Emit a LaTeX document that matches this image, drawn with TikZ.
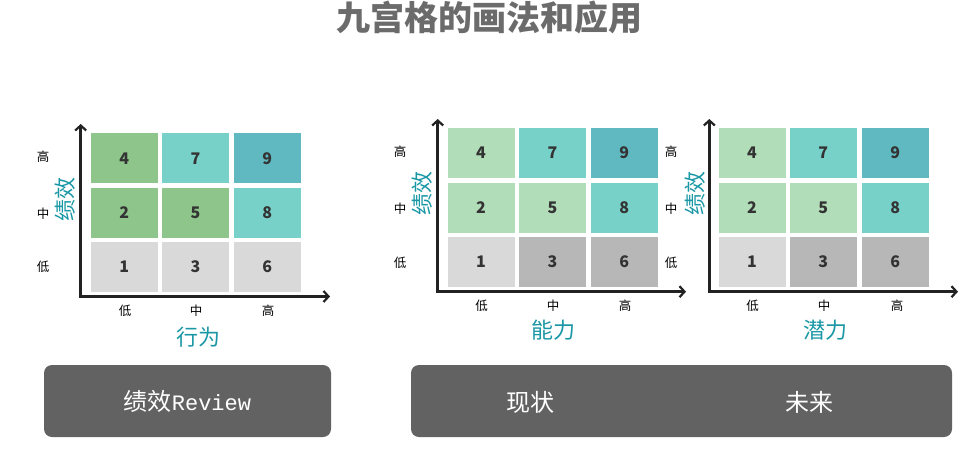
\documentclass[tikz,border=0pt]{standalone}
\usepackage{fontspec}
\setmainfont{Noto Sans CJK SC}
\newfontfamily\monofam{Liberation Mono}
\usetikzlibrary{arrows.meta}
\definecolor{cgreen}{HTML}{8DC58B}
\definecolor{clgreen}{HTML}{B2DDB9}
\definecolor{cteal}{HTML}{77D1C9}
\definecolor{cdteal}{HTML}{60B8C0}
\definecolor{clgray}{HTML}{D9D9D9}
\definecolor{cmgray}{HTML}{B7B7B7}
\definecolor{axcol}{HTML}{222222}
\definecolor{titlecol}{HTML}{6B6B6B}
\definecolor{labcol}{HTML}{1A97A5}
\definecolor{boxcol}{HTML}{626262}
\definecolor{numcol}{HTML}{333333}
\tikzset{
  cellbox/.style={rectangle, inner sep=0pt, minimum width=67pt, minimum height=50pt,
    font=\fontsize{16}{16}\selectfont\bfseries, text=numcol},
  axisline/.style={draw=axcol, line width=2.6pt, {Straight Barb[length=5pt,width=11pt,line width=2.2pt]}-{Straight Barb[length=5pt,width=11pt,line width=2.2pt]}},
  ticklab/.style={inner sep=0pt, font=\fontsize{12.5}{12.5}\selectfont, text=black},
  axtitle/.style={inner sep=0pt, font=\fontsize{22}{22}\selectfont, text=labcol},
  bottombox/.style={rectangle, rounded corners=8pt, fill=boxcol, inner sep=0pt},
  boxtext/.style={inner sep=0pt, text=white, font=\fontsize{24}{24}\selectfont}
}
\begin{document}
\begin{tikzpicture}[x=1pt,y=-1pt]
\useasboundingbox (0,0) rectangle (978,469);
% title
\node[inner sep=0pt, text=titlecol, font=\fontsize{34}{34}\selectfont\bfseries] (title) at (489,18) {九宫格的画法和应用};

% ---------- left panel ----------
\node[cellbox, fill=cgreen] (L4) at (124.3,158.3) {4};
\node[cellbox, fill=cteal]  (L7) at (195.5,158.3) {7};
\node[cellbox, fill=cdteal] (L9) at (267.2,158.3) {9};
\node[cellbox, fill=cgreen] (L2) at (124.3,212.8) {2};
\node[cellbox, fill=cgreen] (L5) at (195.5,212.8) {5};
\node[cellbox, fill=cteal]  (L8) at (267.2,212.8) {8};
\node[cellbox, fill=clgray] (L1) at (124.3,267) {1};
\node[cellbox, fill=clgray] (L3) at (195.5,267) {3};
\node[cellbox, fill=clgray] (L6) at (267.2,267) {6};
\coordinate (Lo) at (80.7,296.5);
\coordinate (Ly) at (80.7,124);
\coordinate (Lx) at (330,296.5);
\draw[axisline] (Ly) -- (Lo) -- (Lx);
\node[ticklab] (Lh) at (43,157) {高};
\node[ticklab] (Lm) at (43,214) {中};
\node[ticklab] (Ll) at (43,267) {低};
\node[ticklab] (Lbl) at (125,311) {低};
\node[ticklab] (Lbm) at (196,311) {中};
\node[ticklab] (Lbh) at (268,311) {高};
\node[axtitle, rotate=90] (Lyt) at (65,199) {绩效};
\node[axtitle] (Lxt) at (198,337) {行为};

% ---------- middle panel ----------
\node[cellbox, fill=clgreen] (M4) at (481,153) {4};
\node[cellbox, fill=cteal]   (M7) at (552.5,153) {7};
\node[cellbox, fill=cdteal]  (M9) at (624.2,153) {9};
\node[cellbox, fill=clgreen] (M2) at (481,207.5) {2};
\node[cellbox, fill=clgreen] (M5) at (552.5,207.5) {5};
\node[cellbox, fill=cteal]   (M8) at (624.2,207.5) {8};
\node[cellbox, fill=clgray]  (M1) at (481,261.7) {1};
\node[cellbox, fill=cmgray]  (M3) at (552.5,261.7) {3};
\node[cellbox, fill=cmgray]  (M6) at (624.2,261.7) {6};
\coordinate (Mo) at (437.7,291.7);
\coordinate (My) at (437.7,119);
\coordinate (Mx) at (686,291.7);
\draw[axisline] (My) -- (Mo) -- (Mx);
\node[ticklab] (Mh) at (400,151.7) {高};
\node[ticklab] (Mm) at (400,209) {中};
\node[ticklab] (Ml) at (400,262.7) {低};
\node[ticklab] (Mbl) at (481.7,306) {低};
\node[ticklab] (Mbm) at (553,306) {中};
\node[ticklab] (Mbh) at (625,306) {高};
\node[axtitle, rotate=90] (Myt) at (422,193) {绩效};
\node[axtitle] (Mxt) at (553,330) {能力};

% ---------- right panel ----------
\node[cellbox, fill=clgreen] (R4) at (752,153) {4};
\node[cellbox, fill=cteal]   (R7) at (823.3,153) {7};
\node[cellbox, fill=cdteal]  (R9) at (895.2,153) {9};
\node[cellbox, fill=clgreen] (R2) at (752,207.5) {2};
\node[cellbox, fill=clgreen] (R5) at (823.3,207.5) {5};
\node[cellbox, fill=cteal]   (R8) at (895.2,207.5) {8};
\node[cellbox, fill=clgray]  (R1) at (752,261.7) {1};
\node[cellbox, fill=cmgray]  (R3) at (823.3,261.7) {3};
\node[cellbox, fill=cmgray]  (R6) at (895.2,261.7) {6};
\coordinate (Ro) at (709.3,291.7);
\coordinate (Ry) at (709.3,119);
\coordinate (Rx) at (958,291.7);
\draw[axisline] (Ry) -- (Ro) -- (Rx);
\node[ticklab] (Rh) at (671,151.7) {高};
\node[ticklab] (Rm) at (671,209) {中};
\node[ticklab] (Rl) at (671,262.7) {低};
\node[ticklab] (Rbl) at (752.7,306) {低};
\node[ticklab] (Rbm) at (824,306) {中};
\node[ticklab] (Rbh) at (897,306) {高};
\node[axtitle, rotate=90] (Ryt) at (695,193) {绩效};
\node[axtitle] (Rxt) at (825,330) {潜力};

% ---------- bottom boxes ----------
\node[bottombox, minimum width=287pt, minimum height=72pt] (B1) at (187.5,401) {};
\node[boxtext] (B1t) at (B1.center) {绩效{\monofam\fontsize{22}{22}\selectfont Review}};
\node[bottombox, minimum width=541pt, minimum height=72pt] (B2) at (681.5,401) {};
\node[boxtext] (B2a) at (530,402) {现状};
\node[boxtext] (B2b) at (809.5,402) {未来};
\end{tikzpicture}
\end{document}
